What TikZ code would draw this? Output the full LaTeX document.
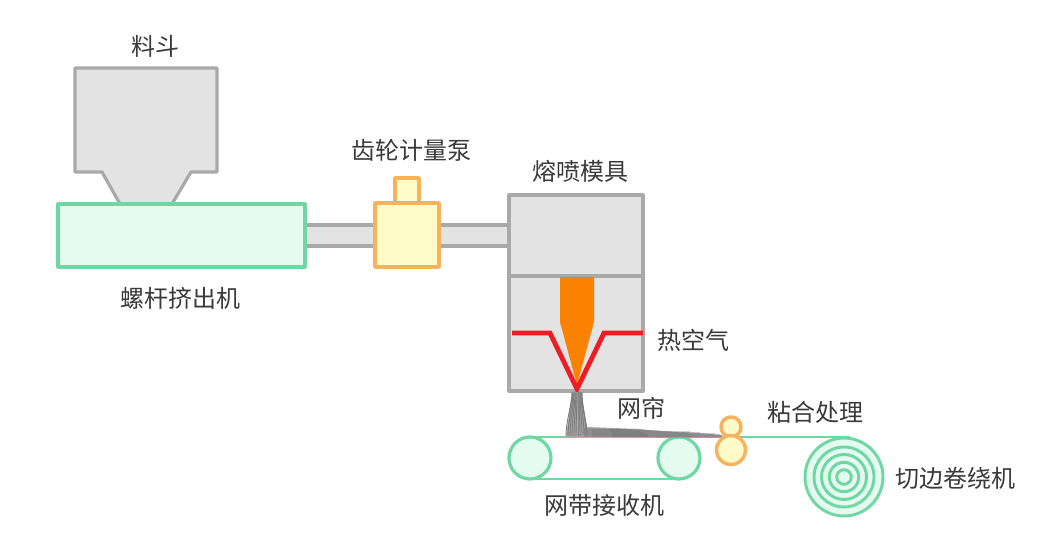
\documentclass[tikz,border=0pt]{standalone}
\usepackage{fontspec}
\setmainfont{Noto Sans CJK SC}
\definecolor{gfill}{HTML}{E3E3E3}
\definecolor{gline}{HTML}{A9A9A9}
\definecolor{tfill}{HTML}{E4FCEF}
\definecolor{tline}{HTML}{70D7A4}
\definecolor{yfill}{HTML}{FFFBC9}
\definecolor{yline}{HTML}{F7B25E}
\definecolor{nozzle}{HTML}{FA8200}
\definecolor{hotair}{HTML}{EE1C25}
\definecolor{fibre}{HTML}{7E7E7E}
\definecolor{fibrelight}{HTML}{A6A6A6}
\definecolor{txt}{HTML}{3A3A3A}
\tikzset{
  metal/.style={draw=gline,fill=gfill,line width=2.4pt,line join=round},
  greenpart/.style={draw=tline,fill=tfill,line width=2.4pt,line join=round},
  greenline/.style={draw=tline,line width=2.2pt},
  yellowpart/.style={draw=yline,fill=yfill,line width=2.6pt,line join=round},
  fibreline/.style={draw=fibre,line width=0.7pt},
  lab/.style={text=txt,font=\fontsize{18pt}{20pt}\selectfont,inner sep=0pt}
}
\begin{document}
\begin{tikzpicture}[x=0.75pt,y=-0.75pt]
\useasboundingbox[fill=white] (0,0) rectangle (1054,542);
% hopper
\draw[metal] (120,204) -- (102,172) -- (75,172) -- (75,68) -- (217,68) -- (217,172) -- (191,172) -- (172,204);
% pipes
\draw[metal] (305,225) rectangle (375,246);
\draw[metal] (439,225) rectangle (509,246);
% extruder
\draw[greenpart] (58,204) rectangle (305,267);
% pump
\draw[yellowpart] (395,178) rectangle (419,203);
\draw[yellowpart] (375,203) rectangle (439,267);
% die
\draw[metal] (509,195) rectangle (643,391);
\draw[gline,line width=2.4pt] (509,276) -- (643,276);
\fill[nozzle] (560,277) -- (594,277) -- (594,322) -- (577,385) -- (560,322) -- cycle;
\draw[hotair,line width=3.6pt,line join=miter] (512,333) -- (550,333) -- (577,389) -- (604,333) -- (643,333);
% belt
\draw[greenpart] (530,458) circle (21);
\draw[greenpart] (679,458) circle (21);
\draw[greenline] (530,479) -- (679,479);
\draw[greenline] (528,437) -- (850,437);
% fibres
\fill[fibrelight] (572,392) -- (581,392) -- (587,427) -- (640,429) -- (660,431) -- (700,433) -- (722,435) -- (722,437) -- (566,437) -- cycle;
\foreach \a/\b in {566/572,568/573,570/574,572/575,574/576,576/577,578/578,580/579,582/580,584/581,586/582,587/581}{
  \draw[fibreline] (\b,392) .. controls (\b,405) and (\a,420) .. (\a,436);
}
\foreach \y/\e in {429/640,430/660,431/690,432/700,433/715,434/720,435/722,436/722}{
  \draw[fibreline] (584,\y) .. controls (610,\y) and (630,\y+1) .. (\e,\y+1);
}
% nip rollers
\draw[yellowpart] (731,427) circle (10);
\draw[yellowpart] (731,450) circle (14.5);
% winder
\fill[tfill] (844,477) circle (39);
\foreach \r in {39,30,22.5,14.7,7.3}{
  \draw[greenline] (844,477) circle (\r);
}
% labels
\node[lab] (hopperlab) at (155,46) {料斗};
\node[lab] (pumplab) at (411.5,150) {齿轮计量泵};
\node[lab] (dielab) at (580,171) {熔喷模具};
\node[lab] (extruderlab) at (180,298) {螺杆挤出机};
\node[lab] (airlab) at (693,340) {热空气};
\node[lab] (weblab) at (641,408) {网帘};
\node[lab] (bondlab) at (815,412) {粘合处理};
\node[lab] (beltlab) at (604,505) {网带接收机};
\node[lab] (winderlab) at (955,478) {切边卷绕机};
\end{tikzpicture}
\end{document}
